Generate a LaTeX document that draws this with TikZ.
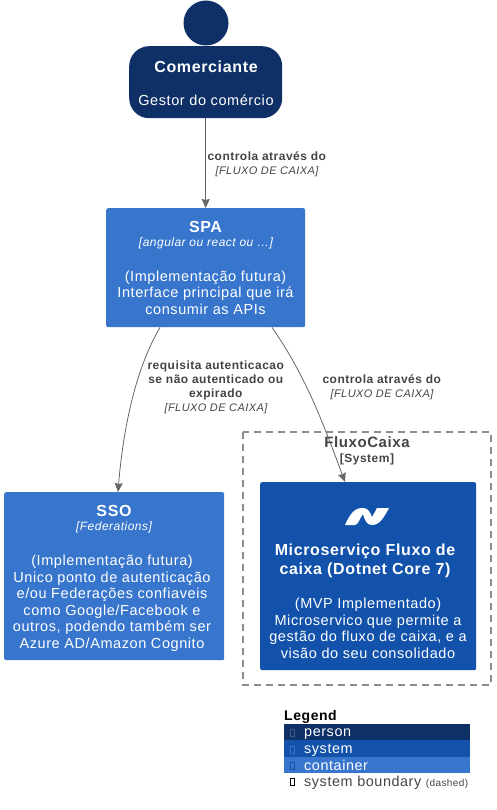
\documentclass[tikz,border=0pt]{standalone}
\usepackage{fontspec}
\setmainfont[LetterSpace=4]{Liberation Sans}
\usetikzlibrary{calc,arrows.meta}
\definecolor{personcol}{HTML}{0E3066}
\definecolor{systemcol}{HTML}{1252AB}
\definecolor{containercol}{HTML}{3876CE}
\definecolor{linecol}{HTML}{666666}
\definecolor{labelcol}{HTML}{444444}
\newcommand{\relsource}{{\fontsize{11}{14}\selectfont\itshape [FLUXO DE CAIXA]}}
\tikzset{
	c4box/.style={rectangle,rounded corners=2pt,inner sep=0pt,anchor=north west},
	boxtitle/.style={text=white,align=center,inner sep=0pt,font=\bfseries\fontsize{16}{19}\selectfont},
	boxtech/.style={text=white,inner sep=0pt,font=\itshape\fontsize{12}{14}\selectfont},
	boxdesc/.style={text=white,align=center,inner sep=0pt,anchor=north,font=\fontsize{14.5}{16.5}\selectfont},
	rellabel/.style={text=labelcol,align=center,inner sep=0pt,font=\fontsize{12}{14}\selectfont},
	rel/.style={linecol,line width=0.8pt,-{Stealth[length=9pt,width=8pt,inset=1pt]}},
	legendrow/.style={anchor=base west,inner sep=0pt,font=\fontsize{14.4}{16}\selectfont},
	legendmark/.style={draw,rectangle,inner sep=0pt,minimum width=3.5pt,minimum height=7pt,line width=0.5pt},
}
\begin{document}
\begin{tikzpicture}[x=1pt,y=-1pt]
	\useasboundingbox (0,0) rectangle (496,810);

	% person
	\node[circle,fill=personcol,minimum size=45pt,inner sep=0pt] (head) at (206,23) {};
	\node[c4box,rounded corners=20pt,fill=personcol,minimum width=153pt,minimum height=72pt] (comerciante) at (129,46) {};
	\node[boxtitle] (comerciantetitle) at (206,67) {Comerciante};
	\node[boxdesc,anchor=center] (comerciantedesc) at (206,100) {Gestor do comércio};

	% boxes
	\node[c4box,fill=containercol,minimum width=199pt,minimum height=119pt] (spa) at (106,208) {};
	\node[boxtitle] (spatitle) at (205.5,227) {SPA};
	\node[boxtech] (spatech) at (206,243.5) {[angular ou react ou …]};
	\node[boxdesc] (spadesc) at (205.5,270.5) {(Implementação futura)\\Interface principal que irá\\consumir as APIs};

	\node[c4box,fill=containercol,minimum width=220pt,minimum height=168pt] (sso) at (4,492) {};
	\node[boxtitle] (ssotitle) at (114,511) {SSO};
	\node[boxtech] (ssotech) at (114,527.5) {[Federations]};
	\node[boxdesc] (ssodesc) at (112,555) {(Implementação futura)\\Unico ponto de autenticação\\e/ou Federações confiaveis\\como Google/Facebook e\\outros, podendo também ser\\Azure AD/Amazon Cognito};

	\draw[gray!90,line width=1.5pt,dash pattern=on 7pt off 5pt] (243,432) rectangle (491,685);
	\node[text=labelcol,inner sep=0pt,font=\bfseries\fontsize{15}{18}\selectfont] (fluxocaixa) at (367,442) {FluxoCaixa};
	\node[text=labelcol,inner sep=0pt,font=\bfseries\fontsize{12}{14}\selectfont] (fluxotipo) at (367,459) {[System]};

	\node[c4box,fill=systemcol,minimum width=216pt,minimum height=188pt] (micro) at (260,482) {};
	\node[boxtitle] (microtitle) at (365,561) {Microserviço Fluxo de\\caixa (Dotnet Core 7)};
	\node[boxdesc] (microdesc) at (368,598) {(MVP Implementado)\\Microservico que permite a\\gestão do fluxo de caixa, e a\\visão do seu consolidado};

	% dotnet logo
	\fill[white] (345,525) .. controls (351,512) and (355,508) .. (363,508) .. controls (368,508) and (370,512) .. (372,517) .. controls (375,512) and (376,510) .. (377,508) -- (389,508) .. controls (384,517) and (380,525) .. (372,525) .. controls (367,525) and (365,521) .. (363,514) .. controls (360,518) and (358,525) .. (355,525) -- cycle;

	% relations
	\draw[rel] (comerciante.south) -- (comerciante.south |- spa.north);
	\coordinate (spaleft) at ($(spa.south west)+(54,0)$);
	\coordinate (ssotop) at ($(sso.north west)+(114,0)$);
	\draw[rel] (spaleft) .. controls (135,370) and (123,430) .. (ssotop);
	\coordinate (sparight) at ($(spa.south west)+(166,0)$);
	\coordinate (microtop) at ($(micro.north west)+(85,0)$);
	\draw[rel] (sparight) .. controls (305,375) and (322,420) .. (microtop);

	\node[rellabel] (rel1) at (267,164) {\textbf{controla através do}\\\relsource};
	\node[rellabel] (rel2) at (216,387) {\textbf{requisita autenticacao}\\\textbf{se não autenticado ou}\\\textbf{expirado}\\\relsource};
	\node[rellabel] (rel3) at (382,387) {\textbf{controla através do}\\\relsource};

	% legend
	\node[anchor=west,inner sep=0pt,font=\bfseries\fontsize{14}{16}\selectfont] (legendtitle) at (284,717) {Legend};
	\fill[personcol] (284,723.5) rectangle (470,740);
	\fill[systemcol] (284,740) rectangle (470,757);
	\fill[containercol] (284,757) rectangle (470,773);
	\node[legendmark,draw=personcol!80!white] (mperson) at (292,733) {};
	\node[legendmark,draw=containercol] (msystem) at (292,750) {};
	\node[legendmark,draw=systemcol] (mcontainer) at (292,766) {};
	\node[legendmark,draw=black] (mboundary) at (292,782) {};
	\node[legendrow,text=white] (lblperson) at (304,736.7) {person};
	\node[legendrow,text=white] (lblsystem) at (304,753.3) {system};
	\node[legendrow,text=white] (lblcontainer) at (304,770) {container};
	\node[legendrow,text=labelcol] (lblboundary) at (304,786) {system boundary {\fontsize{10}{12}\selectfont(dashed)}};
\end{tikzpicture}
\end{document}
